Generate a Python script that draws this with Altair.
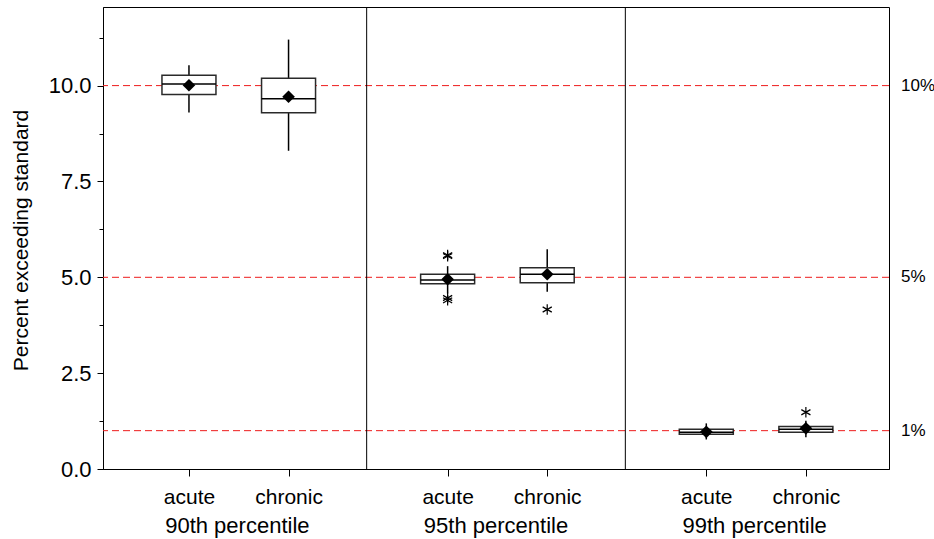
import altair as alt
import pandas as pd

# Three percentile panels, each with an acute and a chronic box
groups = ["90th percentile", "95th percentile", "99th percentile"]
kind_offset = {"acute": 0.313, "chronic": 0.698}

box_group = [0, 0, 1, 1, 2, 2]
box_kind = ["acute", "chronic", "acute", "chronic", "acute", "chronic"]
whisker_low = [9.30, 8.30, 4.58, 4.62, 0.77, 0.83]
q1 = [9.77, 9.29, 4.83, 4.86, 0.905, 0.96]
median = [10.04, 9.66, 4.93, 5.08, 0.96, 1.04]
q3 = [10.27, 10.19, 5.08, 5.25, 1.035, 1.11]
whisker_high = [10.53, 11.20, 5.29, 5.73, 1.19, 1.26]
mean = [10.01, 9.71, 4.95, 5.08, 0.97, 1.06]

outlier_group = [1, 1, 1, 1, 1, 2]
outlier_kind = ["acute", "acute", "acute", "acute", "chronic", "chronic"]
outlier_value = [5.55, 5.58, 4.40, 4.46, 4.16, 1.48]

ref_levels = [10, 5, 1]
ref_labels = ["10%", "5%", "1%"]

W, H = 786, 462
FONT = "Liberation Sans"

boxes = pd.DataFrame({
    "group": box_group, "kind": box_kind,
    "lo": whisker_low, "q1": q1, "med": median, "q3": q3,
    "hi": whisker_high, "mean": mean,
})
boxes["pos"] = boxes["group"] + boxes["kind"].map(kind_offset)

outliers = pd.DataFrame({"group": outlier_group, "kind": outlier_kind, "value": outlier_value})
outliers["pos"] = outliers["group"] + outliers["kind"].map(kind_offset)

refs = pd.DataFrame({"level": ref_levels, "label": ref_labels})
dividers = pd.DataFrame({"x": [1, 2]})
group_labels = pd.DataFrame({"name": groups, "pos": [i + 0.5 for i in range(len(groups))]})

tick_positions = sorted(boxes["pos"].tolist())
minor_all = [i * 1.25 for i in range(10)]

x_scale = alt.Scale(domain=[0, 3], nice=False, zero=False)
y_scale = alt.Scale(domain=[0, 12.05], nice=False)

x_axis = alt.Axis(
    title=None, values=tick_positions, grid=False,
    labelExpr="abs((datum.value % 1) - 0.313) < 0.05 ? 'acute' : 'chronic'",
    tickSize=7, labelPadding=27, labelBaseline="alphabetic",
    labelFontSize=21, labelFlush=False, labelOverlap=False,
)
y_axis = alt.Axis(
    title="Percent exceeding standard", values=minor_all, grid=False,
    labelExpr="datum.value % 2.5 == 0 ? format(datum.value, '.1f') : ''",
    tickSize={"condition": {"test": "datum.value % 2.5 != 0", "value": 4}, "value": 6},
    labelPadding=6, labelFontSize=22, labelOverlap=False,
    titleFontSize=21, titleFontWeight="normal",
    titleX=-76, titleY=233, titleAngle=-90, titleAlign="center", titleBaseline="alphabetic",
)

ref_lines = alt.Chart(refs).mark_rule(color="#ee1c1c", strokeDash=[7, 4], strokeWidth=1).encode(
    y=alt.Y("level:Q", scale=y_scale, axis=y_axis)
)
ref_text = alt.Chart(refs).mark_text(
    align="left", baseline="middle", dx=12, font=FONT, fontSize=17, color="black"
).encode(x=alt.value(W), y=alt.Y("level:Q", scale=y_scale), text="label:N")

divider_rules = alt.Chart(dividers).mark_rule(color="black", strokeWidth=1).encode(
    x=alt.X("x:Q", scale=x_scale, axis=x_axis)
)

base = alt.Chart(boxes).encode(x=alt.X("pos:Q", scale=x_scale, axis=x_axis))
whisk_low = base.mark_rule(color="black", strokeWidth=1.5).encode(
    y=alt.Y("lo:Q", scale=y_scale), y2="q1:Q")
whisk_high = base.mark_rule(color="black", strokeWidth=1.5).encode(
    y=alt.Y("q3:Q", scale=y_scale), y2="hi:Q")
box = base.mark_bar(size=54, fill="white", stroke="#2a2a2a", strokeWidth=1.5).encode(
    y=alt.Y("q1:Q", scale=y_scale), y2="q3:Q")
med = base.mark_tick(orient="horizontal", size=54, thickness=1.5, color="black", opacity=1).encode(
    y=alt.Y("med:Q", scale=y_scale))
mean_pt = base.mark_point(shape="diamond", filled=True, color="black", size=160, opacity=1).encode(
    y=alt.Y("mean:Q", scale=y_scale))

asterisk = "M0,-1L0,1M-0.87,-0.5L0.87,0.5M-0.87,0.5L0.87,-0.5"
out_pts = alt.Chart(outliers).mark_point(
    shape=asterisk, filled=False, stroke="black", strokeWidth=1.2, size=110, opacity=1
).encode(x=alt.X("pos:Q", scale=x_scale), y=alt.Y("value:Q", scale=y_scale))

grp_text = alt.Chart(group_labels).mark_text(
    align="center", baseline="alphabetic", font=FONT, fontSize=22, color="black"
).encode(x=alt.X("pos:Q", scale=x_scale), y=alt.value(H + 64), text="name:N")

chart = alt.layer(
    ref_lines, divider_rules, whisk_low, whisk_high, box, med, mean_pt, out_pts, ref_text, grp_text
).properties(
    width=W, height=H,
    autosize=alt.AutoSizeParams(type="none"),
    padding={"left": 103, "top": 7, "right": 934 - 103 - W, "bottom": 539 - 7 - H},
    background="white",
).configure_axis(
    labelFont=FONT, titleFont=FONT, labelColor="black", titleColor="black",
    domainColor="black", tickColor="black", domainWidth=1, tickWidth=1,
).configure_view(stroke="black", strokeWidth=1)

chart.save("out.html", embed_options={"renderer": "svg", "actions": False})
